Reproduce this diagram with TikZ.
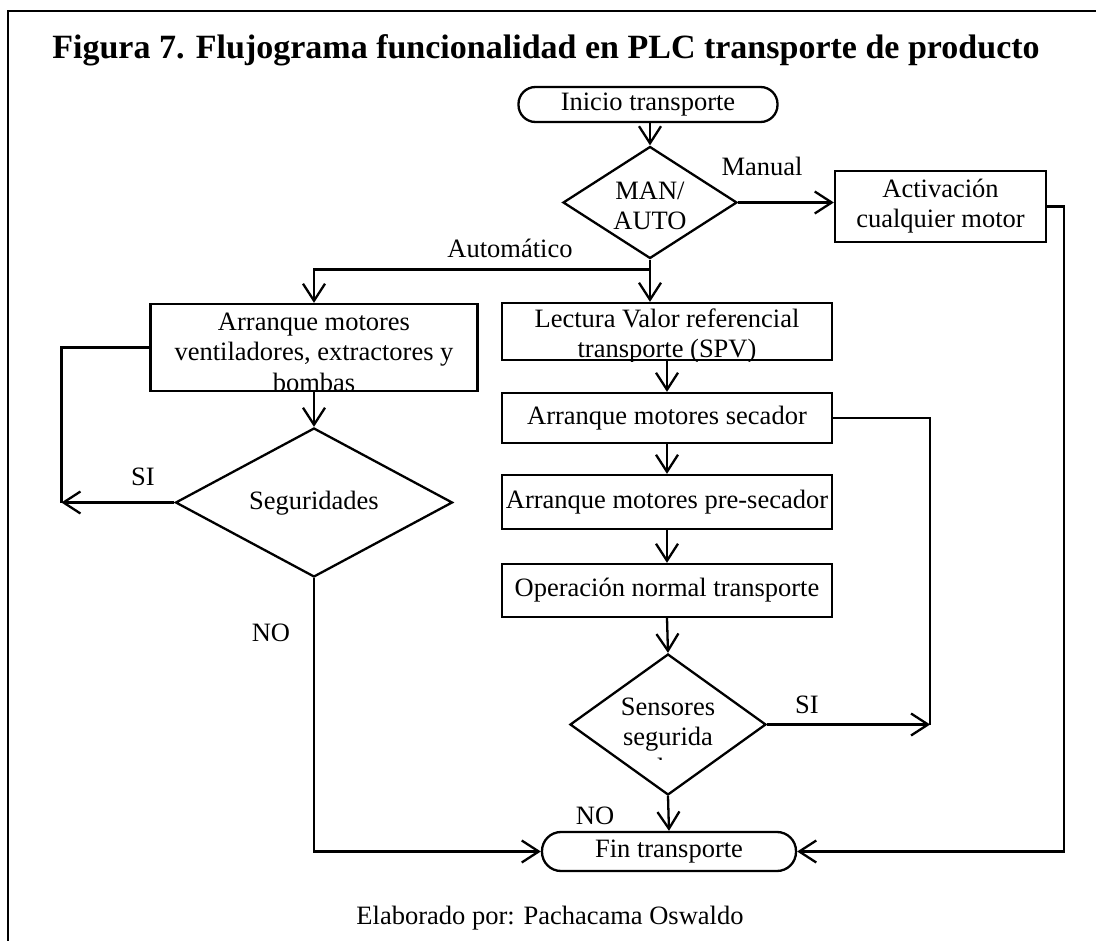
\documentclass[tikz,border=0pt]{standalone}
\usepackage{fontspec}
\setmainfont{Liberation Serif}
\usetikzlibrary{shapes.geometric,arrows.meta,calc}

\begin{document}
\begin{tikzpicture}[x=1pt,y=-1pt,
  line width=2.3pt,
  txt/.style={font=\fontsize{26.5}{30.5}\selectfont, inner sep=0pt, align=center},
  box/.style={draw, rectangle, inner sep=0pt, line width=2.3pt},
  term/.style={draw, rectangle, rounded corners=17pt, inner sep=0pt, line width=2.3pt},
  decision/.style={draw, diamond, inner sep=0pt, line width=2.3pt},
  arr/.style={-{Straight Barb[length=17pt,width=22pt]}},
  link/.style={line width=2.3pt}
]
\useasboundingbox (0,0) rectangle (1096,941);

% outer frame (top and left edges)
\draw[line width=2pt] (8,941) -- (8,11) -- (1096,11);

% title
\node[font=\fontsize{34}{37}\selectfont\bfseries, inner sep=0pt] (title) at (546,50)
  {Figura 7. Flujograma funcionalidad en PLC transporte de producto};

% shapes
\node[term, minimum width=259pt, minimum height=35pt] (inicio) at (648,104.5) {};
\node[txt] (inicioT) at (648,105) {Inicio transporte};

\node[decision, minimum width=174pt, minimum height=112pt] (manauto) at (650,202.5) {};
\begin{scope}
  \clip (540,140) rectangle (760,230);
  \node[txt] (manautoT) at (650,206) {MAN/\\AUTO};
\end{scope}

\node[box, minimum width=211pt, minimum height=71pt] (activ) at (940.5,206.5) {};
\node[txt] (activT) at (940.5,206) {Activación\\cualquier motor};

\node[box, minimum width=327pt, minimum height=87pt] (leftbox) at (314,347.5) {};
\node[txt] (leftboxT) at (314,352) {Arranque motores\\ventiladores, extractores y\\bombas};

\node[decision, minimum width=277pt, minimum height=149pt] (segur) at (314,502.5) {};
\node[txt] (segurT) at (314,503) {Seguridades};

\node[box, minimum width=330pt, minimum height=57pt] (lectura) at (667,331.5) {};
\begin{scope}
  \clip (lectura.north west) rectangle (lectura.south east);
  \node[txt] (lecturaT) at (667,336) {Lectura Valor referencial\\transporte (SPV)};
\end{scope}

\node[box, minimum width=330pt, minimum height=50pt] (secador) at (667,418) {};
\node[txt] (secadorT) at (667,418) {Arranque motores secador};

\node[box, minimum width=330pt, minimum height=54pt] (presec) at (667,502) {};
\node[txt] (presecT) at (667,502) {Arranque motores pre-secador};

\node[box, minimum width=330pt, minimum height=53pt] (operacion) at (667,590.5) {};
\node[txt] (operacionT) at (667,590.5) {Operación normal transporte};

\node[decision, minimum width=196pt, minimum height=141pt] (sensores) at (668,724.5) {};
\begin{scope}
  \clip (560,650) rectangle (780,759);
  \node[txt] (sensoresT) at (668,737) {Sensores\\segurida\\des};
\end{scope}

\node[term, minimum width=254pt, minimum height=39pt, rounded corners=19pt] (fin) at (669,851.5) {};
\node[txt] (finT) at (669,852) {Fin transporte};

% branch labels
\node[txt] (lblManual) at (762,166) {Manual};
\node[txt] (lblAuto) at (510,248) {Automático};
\node[txt] (lblSiL) at (143,477) {SI};
\node[txt] (lblNoL) at (271,633) {NO};
\node[txt] (lblSiR) at (807,705) {SI};
\node[txt] (lblNoR) at (595,816) {NO};

% footer
\node[txt] (footer) at (550,918) {Elaborado por: Pachacama Oswaldo};

% junction points
\coordinate (j) at ($(manauto.south)+(0,10)$);
\coordinate (siL) at ($(segur.west)+(-113,0)$);
\coordinate (siR) at ($(sensores.east)+(163,0)$);

% connectors
\draw[link,arr] (manauto.north |- inicio.south) -- (manauto.north);
\draw[link,arr] (manauto.east) -- (manauto.east -| activ.west);
\draw[link,arr] (activ.east) -- ++(17,0) |- (fin.east);
\draw[link,arr] (manauto.south) -- (manauto.south |- lectura.north);
\draw[link,arr] (j) -| (leftbox.north);
\draw[link,arr] (leftbox.south) -- (segur.north);
\draw[link] (leftbox.west) -| (siL);
\draw[link,arr] (segur.west) -- (siL);
\draw[link,arr] (segur.south) |- (fin.west);
\draw[link,arr] (lectura.south) -- (secador.north);
\draw[link,arr] (secador.south) -- (presec.north);
\draw[link,arr] (presec.south) -- (operacion.north);
\draw[link,arr] (operacion.south) -- (sensores.north);
\draw[link] (secador.east) -| (siR);
\draw[link,arr] (sensores.east) -- (siR);
\draw[link,arr] (sensores.south) -- (fin.north);
\end{tikzpicture}
\end{document}
